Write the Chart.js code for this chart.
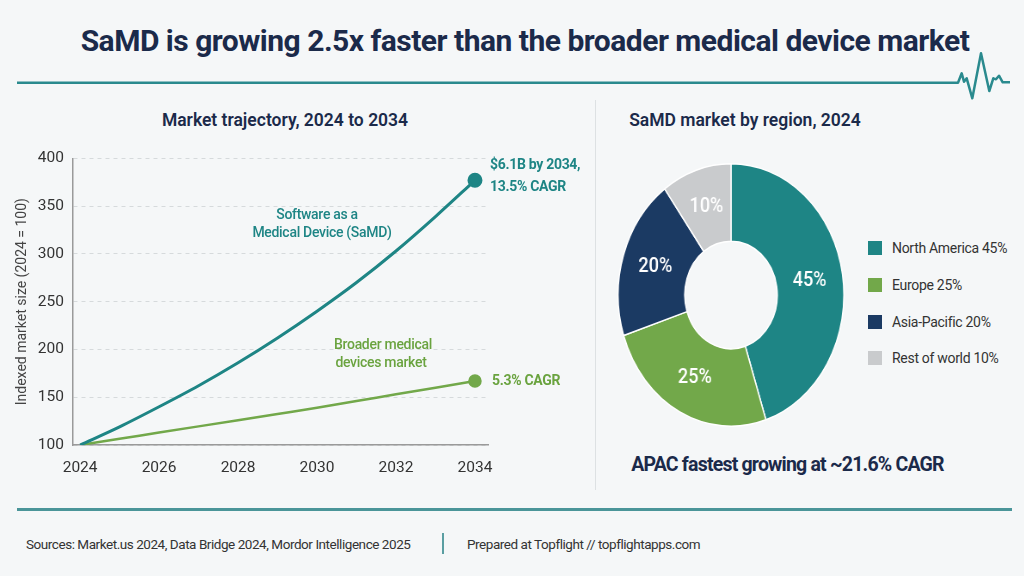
<!DOCTYPE html>
<html>
<head>
<meta charset="utf-8">
<script src="https://cdn.jsdelivr.net/npm/chart.js@4.4.1/dist/chart.umd.min.js"></script>
<style>
  html, body { margin: 0; padding: 0; }
  body {
    width: 1024px; height: 576px; position: relative; overflow: hidden;
    background: #f5f7f8; font-family: Roboto, "Noto Sans", sans-serif; color: #333;
  }
  .abs { position: absolute; }
  #title {
    left: 0; width: 1050px; top: 23px; text-align: center;
    font-size: 30px; font-weight: 700; color: #1b2a4a; letter-spacing: -0.5px;
  }
  .sub { font-size: 17.5px; font-weight: 600; color: #1b2a4a; text-align: center; }
  #divider { left: 595px; top: 100px; width: 1px; height: 390px; background: #dde1e3; }
  #lineWrap { left: 0; top: 140px; width: 595px; height: 340px; }
  #donutWrap { left: 599px; top: 163px; width: 264px; height: 264px; transform: scaleX(0.86); transform-origin: 50% 50%; }
  #legend { left: 868px; top: 238px; }
  .item { display: flex; align-items: center; height: 20px; margin-bottom: 16.8px; font-size: 14px; color: #333; letter-spacing: -0.3px; }
  .sw { width: 14px; height: 14px; margin-right: 10px; }
  #apac { left: 595px; width: 385px; top: 453px; text-align: center; font-size: 19.5px; font-weight: 700; color: #1b2a4a; letter-spacing: -0.8px; }
  #footLine { left: 17px; top: 508px; width: 995px; height: 3px; background: #4a9599; }
  #foot { left: 26px; top: 536px; font-size: 13.5px; color: #333; white-space: nowrap; letter-spacing: -0.45px; }
  #sep { left: 442px; top: 533px; width: 1.5px; height: 21px; background: #5a9ea2; }
  #foot2 { left: 467px; top: 536px; font-size: 13.5px; color: #333; white-space: nowrap; letter-spacing: -0.45px; }
</style>
</head>
<body>
<div id="title" class="abs">SaMD is growing 2.5x faster than the broader medical device market</div>
<svg class="abs" style="left:0;top:0" width="1024" height="110">
  <polyline fill="none" stroke="#2a8a8e" stroke-width="2.5" stroke-linejoin="round"
    points="17,82.7 958,82.7 961.7,73.3 964,81.7 966.7,78.3 972.3,98.3 981,53.3 989.3,91 993.3,78.3 996,79.3 999,75.7 1002.7,82.3 1010,82.3"/>
</svg>

<div class="abs sub" style="left:60px;width:450px;top:110px">Market trajectory, 2024 to 2034</div>
<div class="abs sub" style="left:595px;width:300px;top:110px">SaMD market by region, 2024</div>
<div id="divider" class="abs"></div>

<div id="lineWrap" class="abs"><canvas id="lineChart"></canvas></div>
<div id="donutWrap" class="abs"><canvas id="donutChart"></canvas></div>
<div id="legend" class="abs"></div>
<div id="apac" class="abs">APAC fastest growing at ~21.6% CAGR</div>

<div id="footLine" class="abs"></div>
<div id="foot" class="abs">Sources: Market.us 2024, Data Bridge 2024, Mordor Intelligence 2025</div>
<div id="sep" class="abs"></div>
<div id="foot2" class="abs">Prepared at Topflight // topflightapps.com</div>

<script>
// data
const years = [2024, 2025, 2026, 2027, 2028, 2029, 2030, 2031, 2032, 2033, 2034];
const samdIndex = [100, 119, 140, 162, 186, 212, 240, 270, 303, 339, 377];
const broadIndex = [100, 106.5, 113, 119.5, 126, 132.5, 139, 146, 153, 160, 167];
const xTicks = [2024, 2026, 2028, 2030, 2032, 2034];
const yTicks = [100, 150, 200, 250, 300, 350, 400];

const regions = ["North America", "Europe", "Asia-Pacific", "Rest of world"];
const regionShare = [45, 25, 20, 10];

const TEAL = "#1e8585";
const GREEN = "#72a84a";
const NAVY = "#1b3a63";
const GREY = "#c9cbcd";
const regionColors = [TEAL, GREEN, NAVY, GREY];

// text drawn next to the lines
const lineNotes = {
  id: "lineNotes",
  afterDatasetsDraw(chart) {
    const { ctx, scales: { x, y } } = chart;
    const last = years.length - 1;
    const sx = x.getPixelForValue(years[last]);
    const sy = y.getPixelForValue(samdIndex[last]);
    const by = y.getPixelForValue(broadIndex[last]);
    ctx.save();
    ctx.letterSpacing = "-0.3px";
    ctx.textBaseline = "middle";
    ctx.textAlign = "left";
    ctx.font = "700 14px Roboto";
    ctx.fillStyle = TEAL;
    ctx.fillText("$6.1B by 2034,", sx + 15, sy - 15);
    ctx.fillText("13.5% CAGR", sx + 15, sy + 7);
    ctx.fillStyle = "#6aa33f";
    ctx.fillText("5.3% CAGR", sx + 17, by + 1);

    ctx.textAlign = "center";
    ctx.font = "500 14px Roboto";
    ctx.fillStyle = TEAL;
    let px = x.getPixelForValue(2030.0), py = y.getPixelForValue(340);
    ctx.fillText("Software as a", px, py);
    ctx.fillText("Medical Device (SaMD)", px + 5, py + 18);
    ctx.fillStyle = "#6aa33f";
    px = x.getPixelForValue(2031.67); py = y.getPixelForValue(204.5);
    ctx.fillText("Broader medical", px, py);
    ctx.fillText("devices market", px - 2, py + 18);
    ctx.restore();
  },
};

new Chart(document.getElementById("lineChart"), {
  type: "line",
  data: {
    labels: years,
    datasets: [
      {
        label: "SaMD",
        data: years.map((yr, i) => ({ x: yr, y: samdIndex[i] })),
        borderColor: TEAL,
        backgroundColor: TEAL,
        borderWidth: 3,
        cubicInterpolationMode: "monotone",
        pointRadius: years.map((_, i) => (i === years.length - 1 ? 6 : 0)),
      },
      {
        label: "Broader medical devices",
        data: years.map((yr, i) => ({ x: yr, y: broadIndex[i] })),
        borderColor: GREEN,
        backgroundColor: GREEN,
        borderWidth: 2.5,
        cubicInterpolationMode: "monotone",
        pointRadius: years.map((_, i) => (i === years.length - 1 ? 5.5 : 0)),
      },
    ],
  },
  options: {
    responsive: true,
    maintainAspectRatio: false,
    animation: false,
    layout: { padding: { left: 14, right: 107, top: 15, bottom: 0 } },
    scales: {
      x: {
        type: "linear",
        min: 2023.82,
        max: 2034.33,
        afterBuildTicks: (s) => { s.ticks = xTicks.map((v) => ({ value: v })); },
        afterFit: (s) => { s.height = 35; },
        grid: { display: false, drawTicks: false },
        border: { color: "#9a9a9a", width: 1.5 },
        ticks: { color: "#333", font: { size: 15.5, family: "Roboto" }, padding: 14, maxRotation: 0, callback: (v) => String(v) },
      },
      y: {
        min: 100,
        max: 400,
        afterBuildTicks: (s) => { s.ticks = yTicks.map((v) => ({ value: v })); },
        afterFit: (s) => { s.width = 59; },
        grid: { color: "#d6dadc", lineWidth: 1, drawTicks: false },
        border: { color: "#9a9a9a", width: 1.5, dash: [4, 4] },
        ticks: { color: "#333", font: { size: 15.5, family: "Roboto" }, padding: 9 },
        title: {
          display: true,
          text: "Indexed market size (2024 = 100)",
          color: "#444",
          font: { size: 14, family: "Roboto" },
          padding: { top: 0, bottom: 0 },
        },
      },
    },
    plugins: { legend: { display: false }, tooltip: { enabled: false } },
  },
  plugins: [lineNotes],
});

// percentage labels on the ring
const sliceLabels = {
  id: "sliceLabels",
  afterDatasetsDraw(chart) {
    const { ctx } = chart;
    const meta = chart.getDatasetMeta(0);
    ctx.save();
    ctx.fillStyle = "#ffffff";
    ctx.textAlign = "center";
    ctx.textBaseline = "middle";
    ctx.font = "500 21px Roboto";
    meta.data.forEach((arc, i) => {
      const p = arc.getCenterPoint();
      ctx.fillText(regionShare[i] + "%", p.x, p.y);
    });
    ctx.restore();
  },
};

new Chart(document.getElementById("donutChart"), {
  type: "doughnut",
  data: {
    labels: regions,
    datasets: [{
      data: regionShare,
      backgroundColor: regionColors,
      borderColor: "#ffffff",
      borderWidth: 1.5,
    }],
  },
  options: {
    responsive: true,
    maintainAspectRatio: false,
    animation: false,
    cutout: "41%",
    layout: { padding: 0 },
    plugins: { legend: { display: false }, tooltip: { enabled: false } },
  },
  plugins: [sliceLabels],
});

// legend built from the same arrays
const legendBox = document.getElementById("legend");
regions.forEach((name, i) => {
  const row = document.createElement("div");
  row.className = "item";
  const sw = document.createElement("span");
  sw.className = "sw";
  sw.style.background = regionColors[i];
  const txt = document.createElement("span");
  txt.textContent = name + " " + regionShare[i] + "%";
  row.append(sw, txt);
  legendBox.append(row);
});
</script>
</body>
</html>
